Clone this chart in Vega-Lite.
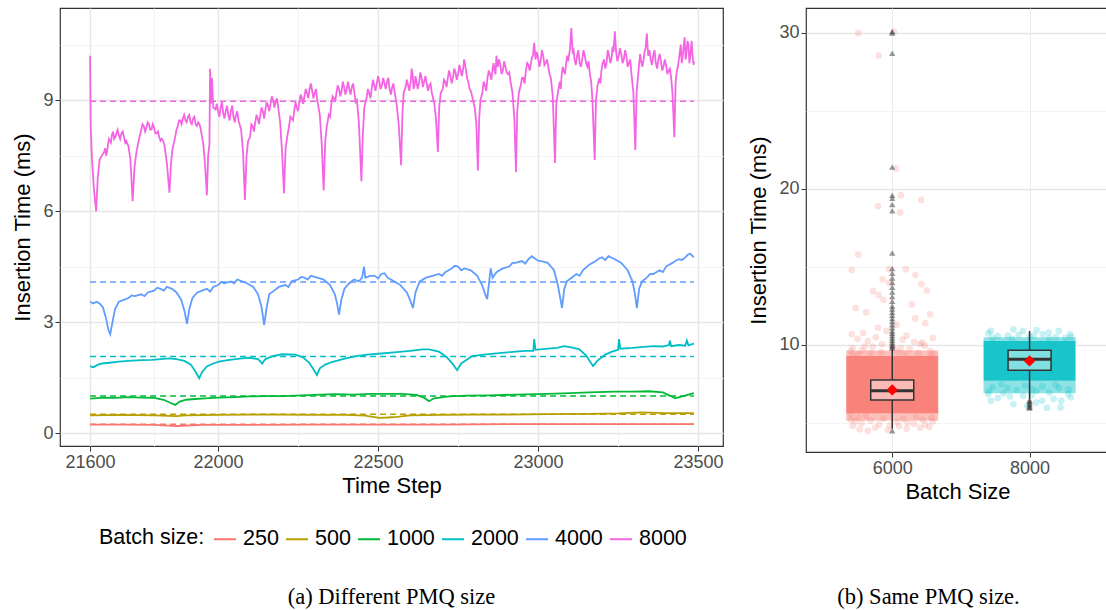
{
"$schema": "https://vega.github.io/schema/vega-lite/v6.json",
"padding": {"left": 11, "top": 7, "right": 0, "bottom": 0},
"background": "white",
"config": {
  "font": "Liberation Sans",
  "view": {"stroke": "#333333", "strokeWidth": 1.2},
  "axis": {"labelFontSize": 18, "labelColor": "#4d4d4d", "labelFont": "Liberation Sans", "titleFontSize": 22, "titleFont": "Liberation Sans", "titleFontWeight": "normal", "titleColor": "black", "tickColor": "#333333", "tickSize": 5, "domain": false, "labelPadding": 2, "labelOverlap": false, "gridColor": "#ebebeb"}
},
"datasets": {
"lines": [
{"b":"8000","s":21600,"t":10.2},{"b":"8000","s":21602,"t":8.3},{"b":"8000","s":21606,"t":7.4},{"b":"8000","s":21612,"t":6.6},{"b":"8000","s":21619,"t":6.0},{"b":"8000","s":21624,"t":6.9},{"b":"8000","s":21630,"t":7.4},{"b":"8000","s":21637,"t":7.5},{"b":"8000","s":21644,"t":7.6},{"b":"8000","s":21650,"t":7.5},{"b":"8000","s":21656,"t":7.8},{"b":"8000","s":21662,"t":7.9},{"b":"8000","s":21668,"t":8.05},{"b":"8000","s":21675,"t":7.95},{"b":"8000","s":21682,"t":8.1},{"b":"8000","s":21690,"t":8.05},{"b":"8000","s":21698,"t":8.1},{"b":"8000","s":21706,"t":8.0},{"b":"8000","s":21713,"t":7.9},{"b":"8000","s":21720,"t":7.75},{"b":"8000","s":21726,"t":7.4},{"b":"8000","s":21733,"t":6.27},
{"b":"8000","s":21739,"t":7.2},{"b":"8000","s":21745,"t":7.6},{"b":"8000","s":21752,"t":7.9},{"b":"8000","s":21760,"t":8.2},{"b":"8000","s":21768,"t":8.3},{"b":"8000","s":21776,"t":8.25},{"b":"8000","s":21784,"t":8.35},{"b":"8000","s":21792,"t":8.2},{"b":"8000","s":21800,"t":8.25},{"b":"8000","s":21808,"t":8.1},{"b":"8000","s":21816,"t":8.0},{"b":"8000","s":21824,"t":7.95},{"b":"8000","s":21832,"t":7.8},{"b":"8000","s":21840,"t":7.3},{"b":"8000","s":21848,"t":6.5},
{"b":"8000","s":21853,"t":7.3},{"b":"8000","s":21858,"t":7.7},{"b":"8000","s":21866,"t":8.0},{"b":"8000","s":21874,"t":8.3},{"b":"8000","s":21882,"t":8.45},{"b":"8000","s":21890,"t":8.5},{"b":"8000","s":21898,"t":8.45},{"b":"8000","s":21906,"t":8.55},{"b":"8000","s":21914,"t":8.4},{"b":"8000","s":21922,"t":8.5},{"b":"8000","s":21930,"t":8.35},{"b":"8000","s":21938,"t":8.4},{"b":"8000","s":21946,"t":8.2},{"b":"8000","s":21954,"t":7.8},{"b":"8000","s":21959,"t":7.3},{"b":"8000","s":21965,"t":6.43},
{"b":"8000","s":21969,"t":7.5},{"b":"8000","s":21973,"t":7.8},{"b":"8000","s":21975,"t":9.85},{"b":"8000","s":21978,"t":8.9},{"b":"8000","s":21981,"t":9.6},{"b":"8000","s":21985,"t":8.8},{"b":"8000","s":21992,"t":8.75},{"b":"8000","s":22000,"t":8.7},{"b":"8000","s":22008,"t":8.8},{"b":"8000","s":22016,"t":8.65},{"b":"8000","s":22024,"t":8.7},{"b":"8000","s":22032,"t":8.6},{"b":"8000","s":22040,"t":8.7},{"b":"8000","s":22048,"t":8.55},{"b":"8000","s":22056,"t":8.6},{"b":"8000","s":22064,"t":8.45},{"b":"8000","s":22072,"t":8.2},{"b":"8000","s":22078,"t":7.6},{"b":"8000","s":22084,"t":6.3},
{"b":"8000","s":22089,"t":7.5},{"b":"8000","s":22094,"t":7.9},{"b":"8000","s":22100,"t":8.0},{"b":"8000","s":22108,"t":8.3},{"b":"8000","s":22116,"t":8.4},{"b":"8000","s":22124,"t":8.5},{"b":"8000","s":22132,"t":8.6},{"b":"8000","s":22140,"t":8.7},{"b":"8000","s":22148,"t":8.75},{"b":"8000","s":22156,"t":8.85},{"b":"8000","s":22164,"t":8.9},{"b":"8000","s":22172,"t":9.0},{"b":"8000","s":22180,"t":8.95},{"b":"8000","s":22188,"t":8.8},{"b":"8000","s":22194,"t":8.4},{"b":"8000","s":22200,"t":7.6},{"b":"8000","s":22206,"t":6.48},
{"b":"8000","s":22211,"t":7.7},{"b":"8000","s":22216,"t":8.0},{"b":"8000","s":22222,"t":8.3},{"b":"8000","s":22230,"t":8.5},{"b":"8000","s":22238,"t":8.7},{"b":"8000","s":22246,"t":8.8},{"b":"8000","s":22254,"t":8.95},{"b":"8000","s":22262,"t":9.05},{"b":"8000","s":22270,"t":9.1},{"b":"8000","s":22278,"t":9.2},{"b":"8000","s":22286,"t":9.3},{"b":"8000","s":22294,"t":9.25},{"b":"8000","s":22302,"t":9.2},{"b":"8000","s":22310,"t":9.0},{"b":"8000","s":22318,"t":8.6},{"b":"8000","s":22324,"t":7.8},{"b":"8000","s":22330,"t":6.56},
{"b":"8000","s":22335,"t":7.9},{"b":"8000","s":22340,"t":8.3},{"b":"8000","s":22346,"t":8.6},{"b":"8000","s":22354,"t":8.9},{"b":"8000","s":22362,"t":9.05},{"b":"8000","s":22370,"t":9.2},{"b":"8000","s":22378,"t":9.3},{"b":"8000","s":22386,"t":9.25},{"b":"8000","s":22394,"t":9.35},{"b":"8000","s":22402,"t":9.3},{"b":"8000","s":22410,"t":9.3},{"b":"8000","s":22418,"t":9.35},{"b":"8000","s":22426,"t":9.2},{"b":"8000","s":22434,"t":9.0},{"b":"8000","s":22440,"t":8.4},{"b":"8000","s":22448,"t":6.8},
{"b":"8000","s":22452,"t":8.0},{"b":"8000","s":22457,"t":8.8},{"b":"8000","s":22464,"t":9.05},{"b":"8000","s":22472,"t":9.2},{"b":"8000","s":22480,"t":9.3},{"b":"8000","s":22488,"t":9.4},{"b":"8000","s":22496,"t":9.45},{"b":"8000","s":22504,"t":9.5},{"b":"8000","s":22512,"t":9.4},{"b":"8000","s":22520,"t":9.45},{"b":"8000","s":22528,"t":9.5},{"b":"8000","s":22536,"t":9.3},{"b":"8000","s":22544,"t":9.35},{"b":"8000","s":22552,"t":9.2},{"b":"8000","s":22558,"t":8.9},{"b":"8000","s":22565,"t":8.3},{"b":"8000","s":22572,"t":7.24},
{"b":"8000","s":22576,"t":8.6},{"b":"8000","s":22580,"t":9.2},{"b":"8000","s":22586,"t":9.35},{"b":"8000","s":22594,"t":9.4},{"b":"8000","s":22602,"t":9.5},{"b":"8000","s":22608,"t":9.7},{"b":"8000","s":22614,"t":9.4},{"b":"8000","s":22620,"t":9.5},{"b":"8000","s":22628,"t":9.45},{"b":"8000","s":22636,"t":9.6},{"b":"8000","s":22644,"t":9.5},{"b":"8000","s":22652,"t":9.45},{"b":"8000","s":22660,"t":9.4},{"b":"8000","s":22668,"t":9.2},{"b":"8000","s":22676,"t":8.9},{"b":"8000","s":22681,"t":8.5},{"b":"8000","s":22687,"t":7.6},
{"b":"8000","s":22691,"t":8.8},{"b":"8000","s":22696,"t":9.2},{"b":"8000","s":22702,"t":9.3},{"b":"8000","s":22710,"t":9.5},{"b":"8000","s":22718,"t":9.6},{"b":"8000","s":22726,"t":9.65},{"b":"8000","s":22734,"t":9.6},{"b":"8000","s":22742,"t":9.75},{"b":"8000","s":22750,"t":9.7},{"b":"8000","s":22758,"t":9.8},{"b":"8000","s":22766,"t":9.85},{"b":"8000","s":22772,"t":9.97},{"b":"8000","s":22778,"t":9.6},{"b":"8000","s":22786,"t":9.3},{"b":"8000","s":22794,"t":9.1},{"b":"8000","s":22802,"t":8.8},{"b":"8000","s":22807,"t":8.4},{"b":"8000","s":22812,"t":7.1},
{"b":"8000","s":22816,"t":8.5},{"b":"8000","s":22820,"t":9.0},{"b":"8000","s":22826,"t":9.2},{"b":"8000","s":22834,"t":9.4},{"b":"8000","s":22842,"t":9.6},{"b":"8000","s":22850,"t":9.7},{"b":"8000","s":22858,"t":9.85},{"b":"8000","s":22864,"t":9.8},{"b":"8000","s":22870,"t":10.2},{"b":"8000","s":22874,"t":9.9},{"b":"8000","s":22882,"t":9.95},{"b":"8000","s":22890,"t":9.8},{"b":"8000","s":22898,"t":9.9},{"b":"8000","s":22906,"t":9.7},{"b":"8000","s":22914,"t":9.5},{"b":"8000","s":22920,"t":9.2},{"b":"8000","s":22926,"t":8.5},{"b":"8000","s":22931,"t":7.05},
{"b":"8000","s":22935,"t":8.7},{"b":"8000","s":22940,"t":9.2},{"b":"8000","s":22946,"t":9.4},{"b":"8000","s":22954,"t":9.6},{"b":"8000","s":22962,"t":9.8},{"b":"8000","s":22970,"t":9.95},{"b":"8000","s":22978,"t":10.0},{"b":"8000","s":22984,"t":10.2},{"b":"8000","s":22988,"t":10.55},{"b":"8000","s":22992,"t":10.1},{"b":"8000","s":23000,"t":10.15},{"b":"8000","s":23008,"t":10.05},{"b":"8000","s":23016,"t":10.2},{"b":"8000","s":23024,"t":10.0},{"b":"8000","s":23032,"t":9.9},{"b":"8000","s":23040,"t":9.6},{"b":"8000","s":23046,"t":9.1},{"b":"8000","s":23053,"t":7.3},
{"b":"8000","s":23057,"t":8.9},{"b":"8000","s":23062,"t":9.2},{"b":"8000","s":23068,"t":9.5},{"b":"8000","s":23074,"t":9.7},{"b":"8000","s":23080,"t":9.8},{"b":"8000","s":23088,"t":10.0},{"b":"8000","s":23094,"t":10.05},{"b":"8000","s":23100,"t":10.4},{"b":"8000","s":23104,"t":10.95},{"b":"8000","s":23108,"t":10.3},{"b":"8000","s":23114,"t":10.1},{"b":"8000","s":23122,"t":10.2},{"b":"8000","s":23130,"t":10.0},{"b":"8000","s":23138,"t":10.1},{"b":"8000","s":23146,"t":10.2},{"b":"8000","s":23154,"t":9.9},{"b":"8000","s":23162,"t":9.7},{"b":"8000","s":23170,"t":9.0},{"b":"8000","s":23177,"t":7.38},
{"b":"8000","s":23181,"t":9.0},{"b":"8000","s":23186,"t":9.4},{"b":"8000","s":23192,"t":9.6},{"b":"8000","s":23198,"t":9.8},{"b":"8000","s":23206,"t":10.1},{"b":"8000","s":23214,"t":10.0},{"b":"8000","s":23222,"t":10.2},{"b":"8000","s":23230,"t":10.15},{"b":"8000","s":23236,"t":10.3},{"b":"8000","s":23240,"t":10.86},{"b":"8000","s":23244,"t":10.3},{"b":"8000","s":23252,"t":10.2},{"b":"8000","s":23260,"t":10.25},{"b":"8000","s":23268,"t":10.1},{"b":"8000","s":23276,"t":10.2},{"b":"8000","s":23284,"t":10.0},{"b":"8000","s":23292,"t":9.7},{"b":"8000","s":23298,"t":9.2},{"b":"8000","s":23304,"t":7.65},
{"b":"8000","s":23308,"t":9.2},{"b":"8000","s":23312,"t":9.6},{"b":"8000","s":23316,"t":10.0},{"b":"8000","s":23322,"t":10.05},{"b":"8000","s":23330,"t":10.1},{"b":"8000","s":23336,"t":10.4},{"b":"8000","s":23340,"t":10.8},{"b":"8000","s":23344,"t":10.2},{"b":"8000","s":23352,"t":10.1},{"b":"8000","s":23360,"t":10.2},{"b":"8000","s":23368,"t":10.0},{"b":"8000","s":23376,"t":10.1},{"b":"8000","s":23384,"t":10.05},{"b":"8000","s":23392,"t":9.9},{"b":"8000","s":23400,"t":9.95},{"b":"8000","s":23408,"t":9.8},{"b":"8000","s":23416,"t":9.6},{"b":"8000","s":23420,"t":9.2},{"b":"8000","s":23426,"t":8.0},
{"b":"8000","s":23430,"t":9.5},{"b":"8000","s":23434,"t":9.8},{"b":"8000","s":23440,"t":10.1},{"b":"8000","s":23446,"t":10.5},{"b":"8000","s":23452,"t":10.2},{"b":"8000","s":23458,"t":10.7},{"b":"8000","s":23464,"t":10.3},{"b":"8000","s":23470,"t":10.5},{"b":"8000","s":23476,"t":10.2},{"b":"8000","s":23480,"t":10.6},{"b":"8000","s":23484,"t":10.1},{"b":"8000","s":23487,"t":10.05},
{"b":"8000","s":21647,"t":7.7},{"b":"8000","s":21653,"t":7.6},{"b":"8000","s":21659,"t":7.95},{"b":"8000","s":21665,"t":7.85},{"b":"8000","s":21672,"t":8.15},{"b":"8000","s":21679,"t":8.0},{"b":"8000","s":21686,"t":8.2},{"b":"8000","s":21694,"t":7.95},{"b":"8000","s":21702,"t":8.15},{"b":"8000","s":21710,"t":7.85},
{"b":"8000","s":21756,"t":8.05},{"b":"8000","s":21764,"t":8.35},{"b":"8000","s":21772,"t":8.15},{"b":"8000","s":21780,"t":8.4},{"b":"8000","s":21788,"t":8.2},{"b":"8000","s":21796,"t":8.35},{"b":"8000","s":21804,"t":8.1},{"b":"8000","s":21812,"t":8.15},{"b":"8000","s":21820,"t":7.9},{"b":"8000","s":21828,"t":7.9},
{"b":"8000","s":21870,"t":8.2},{"b":"8000","s":21878,"t":8.45},{"b":"8000","s":21886,"t":8.35},{"b":"8000","s":21894,"t":8.6},{"b":"8000","s":21902,"t":8.4},{"b":"8000","s":21910,"t":8.6},{"b":"8000","s":21918,"t":8.35},{"b":"8000","s":21926,"t":8.55},{"b":"8000","s":21934,"t":8.3},{"b":"8000","s":21942,"t":8.35},
{"b":"8000","s":21996,"t":8.9},{"b":"8000","s":22004,"t":8.55},{"b":"8000","s":22012,"t":8.95},{"b":"8000","s":22020,"t":8.5},{"b":"8000","s":22028,"t":8.85},{"b":"8000","s":22036,"t":8.45},{"b":"8000","s":22044,"t":8.85},{"b":"8000","s":22052,"t":8.4},{"b":"8000","s":22060,"t":8.7},
{"b":"8000","s":22104,"t":8.35},{"b":"8000","s":22112,"t":8.15},{"b":"8000","s":22120,"t":8.6},{"b":"8000","s":22128,"t":8.35},{"b":"8000","s":22136,"t":8.8},{"b":"8000","s":22144,"t":8.5},{"b":"8000","s":22152,"t":8.95},{"b":"8000","s":22160,"t":8.7},{"b":"8000","s":22168,"t":9.1},{"b":"8000","s":22176,"t":8.8},{"b":"8000","s":22184,"t":9.05},
{"b":"8000","s":22226,"t":8.55},{"b":"8000","s":22234,"t":8.45},{"b":"8000","s":22242,"t":8.95},{"b":"8000","s":22250,"t":8.7},{"b":"8000","s":22258,"t":9.15},{"b":"8000","s":22266,"t":8.9},{"b":"8000","s":22274,"t":9.3},{"b":"8000","s":22282,"t":9.05},{"b":"8000","s":22290,"t":9.45},{"b":"8000","s":22298,"t":9.05},{"b":"8000","s":22306,"t":9.3},
{"b":"8000","s":22350,"t":8.55},{"b":"8000","s":22358,"t":9.1},{"b":"8000","s":22366,"t":8.95},{"b":"8000","s":22374,"t":9.4},{"b":"8000","s":22382,"t":9.1},{"b":"8000","s":22390,"t":9.5},{"b":"8000","s":22398,"t":9.15},{"b":"8000","s":22406,"t":9.5},{"b":"8000","s":22414,"t":9.15},{"b":"8000","s":22422,"t":9.45},{"b":"8000","s":22430,"t":8.95},
{"b":"8000","s":22468,"t":9.3},{"b":"8000","s":22476,"t":9.05},{"b":"8000","s":22484,"t":9.55},{"b":"8000","s":22492,"t":9.25},{"b":"8000","s":22500,"t":9.65},{"b":"8000","s":22508,"t":9.3},{"b":"8000","s":22516,"t":9.6},{"b":"8000","s":22524,"t":9.3},{"b":"8000","s":22532,"t":9.6},{"b":"8000","s":22540,"t":9.15},{"b":"8000","s":22548,"t":9.45},
{"b":"8000","s":22590,"t":9.55},{"b":"8000","s":22598,"t":9.25},{"b":"8000","s":22605,"t":9.85},{"b":"8000","s":22611,"t":9.3},{"b":"8000","s":22617,"t":9.65},{"b":"8000","s":22624,"t":9.3},{"b":"8000","s":22632,"t":9.75},{"b":"8000","s":22640,"t":9.35},{"b":"8000","s":22648,"t":9.65},{"b":"8000","s":22656,"t":9.25},{"b":"8000","s":22664,"t":9.45},
{"b":"8000","s":22706,"t":9.55},{"b":"8000","s":22714,"t":9.35},{"b":"8000","s":22722,"t":9.8},{"b":"8000","s":22730,"t":9.45},{"b":"8000","s":22738,"t":9.85},{"b":"8000","s":22746,"t":9.55},{"b":"8000","s":22754,"t":9.95},{"b":"8000","s":22762,"t":9.65},{"b":"8000","s":22769,"t":10.1},{"b":"8000","s":22775,"t":9.8},{"b":"8000","s":22782,"t":9.5},{"b":"8000","s":22790,"t":9.25},
{"b":"8000","s":22830,"t":9.5},{"b":"8000","s":22838,"t":9.25},{"b":"8000","s":22846,"t":9.8},{"b":"8000","s":22854,"t":9.55},{"b":"8000","s":22861,"t":10.0},{"b":"8000","s":22867,"t":9.7},{"b":"8000","s":22878,"t":10.1},{"b":"8000","s":22886,"t":9.7},{"b":"8000","s":22894,"t":10.05},{"b":"8000","s":22902,"t":9.75},{"b":"8000","s":22910,"t":9.75},
{"b":"8000","s":22950,"t":9.6},{"b":"8000","s":22958,"t":9.45},{"b":"8000","s":22966,"t":10.0},{"b":"8000","s":22974,"t":9.8},{"b":"8000","s":22981,"t":10.15},{"b":"8000","s":22996,"t":10.3},{"b":"8000","s":23004,"t":9.9},{"b":"8000","s":23012,"t":10.35},{"b":"8000","s":23020,"t":9.95},{"b":"8000","s":23028,"t":10.1},{"b":"8000","s":23036,"t":9.7},
{"b":"8000","s":23071,"t":9.3},{"b":"8000","s":23077,"t":9.9},{"b":"8000","s":23084,"t":9.7},{"b":"8000","s":23091,"t":10.2},{"b":"8000","s":23111,"t":10.35},{"b":"8000","s":23118,"t":9.95},{"b":"8000","s":23126,"t":10.35},{"b":"8000","s":23134,"t":9.9},{"b":"8000","s":23142,"t":10.35},{"b":"8000","s":23150,"t":10.0},{"b":"8000","s":23158,"t":10.05},{"b":"8000","s":23166,"t":9.5},
{"b":"8000","s":23195,"t":9.45},{"b":"8000","s":23202,"t":10.0},{"b":"8000","s":23210,"t":9.85},{"b":"8000","s":23218,"t":10.35},{"b":"8000","s":23226,"t":10.0},{"b":"8000","s":23233,"t":10.45},{"b":"8000","s":23248,"t":10.05},{"b":"8000","s":23256,"t":10.4},{"b":"8000","s":23264,"t":10.0},{"b":"8000","s":23272,"t":10.35},{"b":"8000","s":23280,"t":9.9},{"b":"8000","s":23288,"t":10.1},
{"b":"8000","s":23319,"t":10.25},{"b":"8000","s":23326,"t":9.9},{"b":"8000","s":23333,"t":10.3},{"b":"8000","s":23348,"t":10.35},{"b":"8000","s":23356,"t":9.95},{"b":"8000","s":23364,"t":10.35},{"b":"8000","s":23372,"t":9.85},{"b":"8000","s":23380,"t":10.25},{"b":"8000","s":23388,"t":9.8},{"b":"8000","s":23396,"t":10.1},{"b":"8000","s":23404,"t":9.7},{"b":"8000","s":23412,"t":9.85},
{"b":"8000","s":23437,"t":9.9},{"b":"8000","s":23443,"t":10.3},{"b":"8000","s":23449,"t":10.0},{"b":"8000","s":23455,"t":10.45},{"b":"8000","s":23461,"t":10.1},{"b":"8000","s":23467,"t":10.6},{"b":"8000","s":23473,"t":10.0},{"b":"8000","s":23478,"t":10.4},{"b":"8000","s":23482,"t":10.3},{"b":"8000","s":23486,"t":9.95},
{"b":"4000","s":21600,"t":3.55},{"b":"4000","s":21610,"t":3.5},{"b":"4000","s":21620,"t":3.55},{"b":"4000","s":21630,"t":3.5},{"b":"4000","s":21640,"t":3.4},{"b":"4000","s":21650,"t":3.1},{"b":"4000","s":21657,"t":2.8},{"b":"4000","s":21663,"t":2.67},{"b":"4000","s":21670,"t":3.0},{"b":"4000","s":21678,"t":3.35},{"b":"4000","s":21690,"t":3.55},{"b":"4000","s":21705,"t":3.6},{"b":"4000","s":21720,"t":3.65},{"b":"4000","s":21740,"t":3.7},{"b":"4000","s":21760,"t":3.75},{"b":"4000","s":21780,"t":3.8},{"b":"4000","s":21800,"t":3.85},{"b":"4000","s":21820,"t":3.9},{"b":"4000","s":21840,"t":3.95},{"b":"4000","s":21856,"t":3.9},{"b":"4000","s":21870,"t":3.8},{"b":"4000","s":21885,"t":3.6},{"b":"4000","s":21895,"t":3.3},{"b":"4000","s":21903,"t":2.95},{"b":"4000","s":21910,"t":3.35},{"b":"4000","s":21920,"t":3.65},{"b":"4000","s":21935,"t":3.8},{"b":"4000","s":21950,"t":3.85},{"b":"4000","s":21965,"t":3.9},{"b":"4000","s":21985,"t":3.95},{"b":"4000","s":22000,"t":4.0},{"b":"4000","s":22020,"t":4.05},{"b":"4000","s":22040,"t":4.1},{"b":"4000","s":22060,"t":4.15},{"b":"4000","s":22075,"t":4.1},{"b":"4000","s":22090,"t":4.05},{"b":"4000","s":22110,"t":3.95},{"b":"4000","s":22125,"t":3.75},{"b":"4000","s":22136,"t":3.4},{"b":"4000","s":22144,"t":2.92},{"b":"4000","s":22152,"t":3.4},{"b":"4000","s":22160,"t":3.75},{"b":"4000","s":22175,"t":3.85},{"b":"4000","s":22190,"t":3.95},{"b":"4000","s":22210,"t":4.0},{"b":"4000","s":22230,"t":4.1},{"b":"4000","s":22250,"t":4.15},{"b":"4000","s":22270,"t":4.2},{"b":"4000","s":22290,"t":4.25},{"b":"4000","s":22310,"t":4.2},{"b":"4000","s":22330,"t":4.15},{"b":"4000","s":22350,"t":4.0},{"b":"4000","s":22365,"t":3.75},{"b":"4000","s":22372,"t":3.5},{"b":"4000","s":22378,"t":3.2},{"b":"4000","s":22385,"t":3.6},{"b":"4000","s":22395,"t":3.9},{"b":"4000","s":22410,"t":4.05},{"b":"4000","s":22425,"t":4.15},{"b":"4000","s":22440,"t":4.1},{"b":"4000","s":22450,"t":4.2},{"b":"4000","s":22456,"t":4.5},{"b":"4000","s":22460,"t":4.2},{"b":"4000","s":22475,"t":4.25},{"b":"4000","s":22490,"t":4.25},{"b":"4000","s":22510,"t":4.3},{"b":"4000","s":22530,"t":4.2},{"b":"4000","s":22550,"t":4.1},{"b":"4000","s":22570,"t":4.0},{"b":"4000","s":22590,"t":3.8},{"b":"4000","s":22600,"t":3.6},{"b":"4000","s":22609,"t":3.38},{"b":"4000","s":22617,"t":3.8},{"b":"4000","s":22630,"t":4.1},{"b":"4000","s":22650,"t":4.2},{"b":"4000","s":22670,"t":4.25},{"b":"4000","s":22690,"t":4.3},{"b":"4000","s":22710,"t":4.35},{"b":"4000","s":22730,"t":4.45},{"b":"4000","s":22750,"t":4.5},{"b":"4000","s":22770,"t":4.45},{"b":"4000","s":22790,"t":4.4},{"b":"4000","s":22810,"t":4.25},{"b":"4000","s":22825,"t":4.0},{"b":"4000","s":22835,"t":3.75},{"b":"4000","s":22841,"t":3.62},{"b":"4000","s":22846,"t":4.0},{"b":"4000","s":22852,"t":4.45},{"b":"4000","s":22858,"t":4.2},{"b":"4000","s":22870,"t":4.35},{"b":"4000","s":22890,"t":4.45},{"b":"4000","s":22910,"t":4.5},{"b":"4000","s":22930,"t":4.6},{"b":"4000","s":22950,"t":4.65},{"b":"4000","s":22970,"t":4.7},{"b":"4000","s":22990,"t":4.72},{"b":"4000","s":23010,"t":4.65},{"b":"4000","s":23030,"t":4.6},{"b":"4000","s":23050,"t":4.4},{"b":"4000","s":23062,"t":4.0},{"b":"4000","s":23075,"t":3.38},{"b":"4000","s":23082,"t":3.9},{"b":"4000","s":23090,"t":4.1},{"b":"4000","s":23105,"t":4.2},{"b":"4000","s":23120,"t":4.3},{"b":"4000","s":23140,"t":4.4},{"b":"4000","s":23160,"t":4.55},{"b":"4000","s":23180,"t":4.65},{"b":"4000","s":23200,"t":4.75},{"b":"4000","s":23220,"t":4.78},{"b":"4000","s":23240,"t":4.7},{"b":"4000","s":23260,"t":4.6},{"b":"4000","s":23280,"t":4.4},{"b":"4000","s":23295,"t":4.1},{"b":"4000","s":23302,"t":3.8},{"b":"4000","s":23309,"t":3.38},{"b":"4000","s":23316,"t":3.9},{"b":"4000","s":23325,"t":4.1},{"b":"4000","s":23340,"t":4.2},{"b":"4000","s":23360,"t":4.3},{"b":"4000","s":23380,"t":4.4},{"b":"4000","s":23400,"t":4.5},{"b":"4000","s":23420,"t":4.6},{"b":"4000","s":23440,"t":4.7},{"b":"4000","s":23460,"t":4.75},{"b":"4000","s":23475,"t":4.85},{"b":"4000","s":23487,"t":4.75},
{"b":"4000","s":21730,"t":3.72},{"b":"4000","s":21770,"t":3.7},{"b":"4000","s":21810,"t":3.93},{"b":"4000","s":21830,"t":3.85},{"b":"4000","s":21975,"t":3.82},{"b":"4000","s":22010,"t":4.08},{"b":"4000","s":22050,"t":4.05},{"b":"4000","s":22220,"t":3.95},{"b":"4000","s":22260,"t":4.22},{"b":"4000","s":22280,"t":4.15},{"b":"4000","s":22500,"t":4.18},{"b":"4000","s":22520,"t":4.32},{"b":"4000","s":22700,"t":4.25},{"b":"4000","s":22740,"t":4.52},{"b":"4000","s":22760,"t":4.4},{"b":"4000","s":22920,"t":4.6},{"b":"4000","s":22960,"t":4.58},{"b":"4000","s":22980,"t":4.78},{"b":"4000","s":23000,"t":4.66},{"b":"4000","s":23130,"t":4.25},{"b":"4000","s":23150,"t":4.48},{"b":"4000","s":23190,"t":4.72},{"b":"4000","s":23210,"t":4.68},{"b":"4000","s":23350,"t":4.3},{"b":"4000","s":23390,"t":4.35},{"b":"4000","s":23430,"t":4.66},{"b":"4000","s":23450,"t":4.68},{"b":"4000","s":23468,"t":4.82},
{"b":"2000","s":21600,"t":1.81},{"b":"2000","s":21610,"t":1.78},{"b":"2000","s":21625,"t":1.85},{"b":"2000","s":21638,"t":1.88},{"b":"2000","s":21660,"t":1.9},{"b":"2000","s":21690,"t":1.93},{"b":"2000","s":21720,"t":1.95},{"b":"2000","s":21760,"t":1.97},{"b":"2000","s":21794,"t":1.98},{"b":"2000","s":21820,"t":2.0},{"b":"2000","s":21847,"t":2.02},{"b":"2000","s":21870,"t":2.0},{"b":"2000","s":21895,"t":1.95},{"b":"2000","s":21915,"t":1.85},{"b":"2000","s":21930,"t":1.65},{"b":"2000","s":21941,"t":1.48},{"b":"2000","s":21950,"t":1.65},{"b":"2000","s":21965,"t":1.8},{"b":"2000","s":21985,"t":1.88},{"b":"2000","s":22003,"t":1.93},{"b":"2000","s":22030,"t":1.97},{"b":"2000","s":22055,"t":2.0},{"b":"2000","s":22075,"t":2.02},{"b":"2000","s":22100,"t":2.03},{"b":"2000","s":22125,"t":2.0},{"b":"2000","s":22138,"t":1.88},{"b":"2000","s":22148,"t":2.0},{"b":"2000","s":22170,"t":2.08},{"b":"2000","s":22200,"t":2.13},{"b":"2000","s":22241,"t":2.12},{"b":"2000","s":22265,"t":2.05},{"b":"2000","s":22285,"t":1.9},{"b":"2000","s":22300,"t":1.7},{"b":"2000","s":22309,"t":1.57},{"b":"2000","s":22318,"t":1.75},{"b":"2000","s":22335,"t":1.85},{"b":"2000","s":22356,"t":1.92},{"b":"2000","s":22390,"t":2.0},{"b":"2000","s":22430,"t":2.08},{"b":"2000","s":22466,"t":2.12},{"b":"2000","s":22510,"t":2.15},{"b":"2000","s":22550,"t":2.18},{"b":"2000","s":22600,"t":2.22},{"b":"2000","s":22640,"t":2.26},{"b":"2000","s":22659,"t":2.26},{"b":"2000","s":22690,"t":2.2},{"b":"2000","s":22715,"t":2.05},{"b":"2000","s":22735,"t":1.85},{"b":"2000","s":22747,"t":1.7},{"b":"2000","s":22760,"t":1.88},{"b":"2000","s":22794,"t":2.08},{"b":"2000","s":22830,"t":2.12},{"b":"2000","s":22878,"t":2.16},{"b":"2000","s":22930,"t":2.2},{"b":"2000","s":22960,"t":2.22},{"b":"2000","s":22985,"t":2.22},{"b":"2000","s":22988,"t":2.54},{"b":"2000","s":22992,"t":2.25},{"b":"2000","s":23030,"t":2.28},{"b":"2000","s":23060,"t":2.3},{"b":"2000","s":23081,"t":2.35},{"b":"2000","s":23100,"t":2.32},{"b":"2000","s":23128,"t":2.27},{"b":"2000","s":23150,"t":2.1},{"b":"2000","s":23165,"t":1.9},{"b":"2000","s":23172,"t":1.81},{"b":"2000","s":23185,"t":1.95},{"b":"2000","s":23210,"t":2.12},{"b":"2000","s":23231,"t":2.2},{"b":"2000","s":23250,"t":2.25},{"b":"2000","s":23253,"t":2.54},{"b":"2000","s":23257,"t":2.28},{"b":"2000","s":23294,"t":2.3},{"b":"2000","s":23330,"t":2.33},{"b":"2000","s":23360,"t":2.35},{"b":"2000","s":23390,"t":2.34},{"b":"2000","s":23409,"t":2.38},{"b":"2000","s":23412,"t":2.5},{"b":"2000","s":23416,"t":2.35},{"b":"2000","s":23440,"t":2.38},{"b":"2000","s":23460,"t":2.36},{"b":"2000","s":23465,"t":2.5},{"b":"2000","s":23470,"t":2.37},{"b":"2000","s":23487,"t":2.42},
{"b":"1000","s":21600,"t":0.93},{"b":"1000","s":21640,"t":0.96},{"b":"1000","s":21680,"t":0.95},{"b":"1000","s":21720,"t":0.97},{"b":"1000","s":21760,"t":0.96},{"b":"1000","s":21800,"t":0.95},{"b":"1000","s":21830,"t":0.9},{"b":"1000","s":21850,"t":0.82},{"b":"1000","s":21866,"t":0.76},{"b":"1000","s":21880,"t":0.85},{"b":"1000","s":21900,"t":0.9},{"b":"1000","s":21928,"t":0.92},{"b":"1000","s":21960,"t":0.94},{"b":"1000","s":22000,"t":0.96},{"b":"1000","s":22053,"t":0.97},{"b":"1000","s":22100,"t":0.99},{"b":"1000","s":22150,"t":1.0},{"b":"1000","s":22200,"t":1.0},{"b":"1000","s":22263,"t":1.02},{"b":"1000","s":22300,"t":1.03},{"b":"1000","s":22366,"t":1.05},{"b":"1000","s":22420,"t":1.04},{"b":"1000","s":22480,"t":1.06},{"b":"1000","s":22540,"t":1.06},{"b":"1000","s":22575,"t":1.06},{"b":"1000","s":22620,"t":1.03},{"b":"1000","s":22645,"t":0.95},{"b":"1000","s":22659,"t":0.86},{"b":"1000","s":22675,"t":0.94},{"b":"1000","s":22722,"t":0.99},{"b":"1000","s":22780,"t":1.01},{"b":"1000","s":22850,"t":1.02},{"b":"1000","s":22928,"t":1.04},{"b":"1000","s":23000,"t":1.05},{"b":"1000","s":23080,"t":1.07},{"b":"1000","s":23160,"t":1.1},{"b":"1000","s":23241,"t":1.12},{"b":"1000","s":23300,"t":1.12},{"b":"1000","s":23347,"t":1.13},{"b":"1000","s":23390,"t":1.1},{"b":"1000","s":23415,"t":1.0},{"b":"1000","s":23428,"t":0.94},{"b":"1000","s":23445,"t":0.98},{"b":"1000","s":23470,"t":1.04},{"b":"1000","s":23487,"t":1.08},
{"b":"500","s":21600,"t":0.48},{"b":"500","s":21700,"t":0.49},{"b":"500","s":21800,"t":0.48},{"b":"500","s":21870,"t":0.46},{"b":"500","s":21900,"t":0.48},{"b":"500","s":22000,"t":0.49},{"b":"500","s":22100,"t":0.5},{"b":"500","s":22200,"t":0.5},{"b":"500","s":22300,"t":0.49},{"b":"500","s":22400,"t":0.49},{"b":"500","s":22460,"t":0.47},{"b":"500","s":22503,"t":0.41},{"b":"500","s":22530,"t":0.42},{"b":"500","s":22560,"t":0.44},{"b":"500","s":22600,"t":0.48},{"b":"500","s":22700,"t":0.49},{"b":"500","s":22800,"t":0.5},{"b":"500","s":22900,"t":0.5},{"b":"500","s":23034,"t":0.51},{"b":"500","s":23150,"t":0.52},{"b":"500","s":23250,"t":0.53},{"b":"500","s":23325,"t":0.56},{"b":"500","s":23400,"t":0.54},{"b":"500","s":23487,"t":0.54},
{"b":"250","s":21600,"t":0.23},{"b":"250","s":21700,"t":0.23},{"b":"250","s":21800,"t":0.22},{"b":"250","s":21870,"t":0.19},{"b":"250","s":21950,"t":0.22},{"b":"250","s":22100,"t":0.22},{"b":"250","s":22300,"t":0.23},{"b":"250","s":22500,"t":0.23},{"b":"250","s":22700,"t":0.23},{"b":"250","s":22900,"t":0.24},{"b":"250","s":23100,"t":0.24},{"b":"250","s":23300,"t":0.24},{"b":"250","s":23487,"t":0.24}
],
"means": [
{"b":"8000","m":8.97,"x0":21600,"x1":23487},{"b":"4000","m":4.08,"x0":21600,"x1":23487},{"b":"2000","m":2.07,"x0":21600,"x1":23487},{"b":"1000","m":1.0,"x0":21600,"x1":23487},{"b":"500","m":0.51,"x0":21600,"x1":23487},{"b":"250","m":0.24,"x0":21600,"x1":23487}
],
"core": [
{"g":"6000","bs":6000,"lo":5.6,"hi":9.3},{"g":"8000","bs":8000,"lo":7.7,"hi":10.25}
],
"halo": [
{"g":"6000","bs":6000,"lo":5.15,"hi":5.6},{"g":"6000","bs":6000,"lo":9.3,"hi":9.65},{"g":"8000","bs":8000,"lo":6.9,"hi":7.7},{"g":"8000","bs":8000,"lo":10.25,"hi":10.5}
],
"fringe": [
{"g":"6000","x":5505,"t":30.0},{"g":"6000","x":6025,"t":30.1},{"g":"6000","x":5803,"t":28.55},{"g":"6000","x":6057,"t":21.3},{"g":"6000","x":6127,"t":19.6},{"g":"6000","x":6425,"t":19.3},{"g":"6000","x":5791,"t":18.9},{"g":"6000","x":6114,"t":18.5},{"g":"6000","x":5505,"t":15.8},{"g":"6000","x":5410,"t":14.8},{"g":"6000","x":6197,"t":14.86},{"g":"6000","x":6336,"t":14.5},{"g":"6000","x":5861,"t":14.2},{"g":"6000","x":6425,"t":13.9},{"g":"6000","x":5721,"t":13.45},{"g":"6000","x":6507,"t":13.5},{"g":"6000","x":5803,"t":13.2},{"g":"6000","x":5956,"t":14.86},{"g":"6000","x":5956,"t":14.0},
{"g":"6000","x":5467,"t":12.37},{"g":"6000","x":5410,"t":10.7},{"g":"6000","x":5575,"t":10.77},{"g":"6000","x":5791,"t":11.1},{"g":"6000","x":6336,"t":11.7},{"g":"6000","x":6552,"t":11.97},{"g":"6000","x":6482,"t":11.4},{"g":"6000","x":6209,"t":10.6},{"g":"6000","x":6590,"t":10.45},{"g":"6000","x":5918,"t":10.9},{"g":"6000","x":5645,"t":10.25},{"g":"6000","x":5848,"t":10.06},{"g":"6000","x":6406,"t":10.06},{"g":"6000","x":6127,"t":9.8},{"g":"6000","x":5423,"t":9.8},{"g":"6000","x":6552,"t":9.6},{"g":"6000","x":5873,"t":12.9},{"g":"6000","x":6285,"t":12.6},{"g":"6000","x":6063,"t":11.3},{"g":"6000","x":5620,"t":12.1},{"g":"6000","x":5493,"t":10.4},{"g":"6000","x":6317,"t":10.2},{"g":"6000","x":5715,"t":9.9},{"g":"6000","x":6476,"t":9.95},{"g":"6000","x":6032,"t":9.7},{"g":"6000","x":5556,"t":9.65},{"g":"6000","x":6254,"t":9.75},{"g":"6000","x":5842,"t":9.55},{"g":"6000","x":6380,"t":9.5},{"g":"6000","x":5398,"t":9.6},{"g":"6000","x":6602,"t":9.45},{"g":"6000","x":5683,"t":9.5},{"g":"6000","x":6095,"t":9.55},{"g":"6000","x":6190,"t":9.45},{"g":"6000","x":5493,"t":9.4},{"g":"6000","x":5600,"t":9.9},{"g":"6000","x":6150,"t":10.35},{"g":"6000","x":6440,"t":10.15},{"g":"6000","x":5760,"t":10.5},{"g":"6000","x":6000,"t":9.95},{"g":"6000","x":6560,"t":9.25},{"g":"6000","x":5420,"t":9.3},
{"g":"6000","x":5423,"t":4.82},{"g":"6000","x":5645,"t":4.5},{"g":"6000","x":5937,"t":4.55},{"g":"6000","x":6209,"t":4.63},{"g":"6000","x":6406,"t":4.7},{"g":"6000","x":6590,"t":5.1},{"g":"6000","x":5398,"t":5.56},{"g":"6000","x":5810,"t":4.9},{"g":"6000","x":6317,"t":4.95},{"g":"6000","x":5556,"t":5.0},{"g":"6000","x":6063,"t":5.05},{"g":"6000","x":6539,"t":4.75},{"g":"6000","x":5968,"t":4.85},{"g":"6000","x":5683,"t":5.15},{"g":"6000","x":6444,"t":5.2},{"g":"6000","x":5461,"t":5.1},{"g":"6000","x":6159,"t":5.25},{"g":"6000","x":5873,"t":5.3},{"g":"6000","x":6571,"t":5.35},{"g":"6000","x":5398,"t":5.2},{"g":"6000","x":6349,"t":5.4},{"g":"6000","x":6222,"t":5.0},{"g":"6000","x":5525,"t":4.6},{"g":"6000","x":5620,"t":5.45},{"g":"6000","x":5750,"t":4.7},{"g":"6000","x":6100,"t":4.8},{"g":"6000","x":6480,"t":4.9},{"g":"6000","x":5500,"t":5.35},
{"g":"8000","x":7436,"t":10.9},{"g":"8000","x":7765,"t":11.0},{"g":"8000","x":8101,"t":10.95},{"g":"8000","x":8425,"t":10.9},{"g":"8000","x":8590,"t":10.7},{"g":"8000","x":7905,"t":10.9},{"g":"8000","x":8279,"t":10.8},{"g":"8000","x":7537,"t":10.58},{"g":"8000","x":8520,"t":10.45},{"g":"8000","x":7683,"t":10.6},{"g":"8000","x":8190,"t":10.7},{"g":"8000","x":8000,"t":10.55},{"g":"8000","x":7398,"t":10.75},{"g":"8000","x":8380,"t":10.5},{"g":"8000","x":7842,"t":10.65},{"g":"8000","x":7461,"t":10.45},{"g":"8000","x":8602,"t":10.5},{"g":"8000","x":8063,"t":10.6},{"g":"8000","x":7746,"t":10.4},{"g":"8000","x":8285,"t":10.42},
{"g":"8000","x":7410,"t":7.06},{"g":"8000","x":7537,"t":6.6},{"g":"8000","x":7765,"t":6.2},{"g":"8000","x":8254,"t":5.97},{"g":"8000","x":8450,"t":6.0},{"g":"8000","x":8184,"t":6.42},{"g":"8000","x":7905,"t":6.74},{"g":"8000","x":8564,"t":6.86},{"g":"8000","x":7677,"t":7.25},{"g":"8000","x":8425,"t":7.25},{"g":"8000","x":8101,"t":7.06},{"g":"8000","x":8463,"t":6.42},{"g":"8000","x":7436,"t":6.42},{"g":"8000","x":7968,"t":6.1},{"g":"8000","x":7620,"t":6.9},{"g":"8000","x":8285,"t":6.95},{"g":"8000","x":7810,"t":7.1},{"g":"8000","x":8571,"t":7.15},{"g":"8000","x":8032,"t":6.8},{"g":"8000","x":7461,"t":7.3},{"g":"8000","x":8190,"t":7.35},{"g":"8000","x":7715,"t":6.7},{"g":"8000","x":8349,"t":6.55},{"g":"8000","x":8032,"t":7.2},{"g":"8000","x":8602,"t":6.65},{"g":"8000","x":7937,"t":7.4},{"g":"8000","x":8380,"t":7.45},{"g":"8000","x":7588,"t":7.5},{"g":"8000","x":8095,"t":6.3},{"g":"8000","x":7398,"t":6.85}
],
"stats": [
{"g":"6000","bs":6000,"lo":4.63,"q1":6.48,"med":7.06,"q3":7.76,"hi":9.74,"mean":7.12},
{"g":"8000","bs":8000,"lo":6.53,"q1":8.38,"med":9.08,"q3":9.66,"hi":10.9,"mean":8.98}
],
"outliers": [
{"bs":6000,"t":30.1},{"bs":6000,"t":30.0},{"bs":6000,"t":28.7},{"bs":6000,"t":21.4},{"bs":6000,"t":19.6},{"bs":6000,"t":19.4},{"bs":6000,"t":19.0},{"bs":6000,"t":18.6},{"bs":6000,"t":15.9},{"bs":6000,"t":14.9},{"bs":6000,"t":14.6},{"bs":6000,"t":14.3},{"bs":6000,"t":14.0},{"bs":6000,"t":13.7},{"bs":6000,"t":13.4},{"bs":6000,"t":13.1},{"bs":6000,"t":12.8},{"bs":6000,"t":12.5},{"bs":6000,"t":12.3},{"bs":6000,"t":12.1},{"bs":6000,"t":11.9},{"bs":6000,"t":11.7},{"bs":6000,"t":11.5},{"bs":6000,"t":11.3},{"bs":6000,"t":11.1},{"bs":6000,"t":10.9},{"bs":6000,"t":10.75},{"bs":6000,"t":10.6},{"bs":6000,"t":10.45},{"bs":6000,"t":10.3},{"bs":6000,"t":10.15},{"bs":6000,"t":10.0},{"bs":6000,"t":9.9},{"bs":6000,"t":9.8},{"bs":6000,"t":4.5},
{"bs":8000,"t":6.48},{"bs":8000,"t":6.4},{"bs":8000,"t":6.3},{"bs":8000,"t":6.2},{"bs":8000,"t":6.1},{"bs":8000,"t":6.0},{"bs":8000,"t":5.96}
]
},
"hconcat": [
{
  "width": 663, "height": 438,
  "title": {"text": "(a) Different PMQ size", "orient": "bottom", "font": "Liberation Serif", "fontSize": 22.5, "fontWeight": "normal", "color": "black", "offset": 36, "anchor": "middle", "frame": "group"},
  "layer": [
    {"data": {"name": "lines"},
     "mark": {"type": "line", "strokeWidth": 1.8},
     "encoding": {
       "x": {"field": "s", "type": "quantitative", "title": "Time Step",
             "scale": {"domain": [21506, 23578], "nice": false, "zero": false},
             "axis": {"values": [21600, 21800, 22000, 22250, 22500, 22750, 23000, 23250, 23500], "format": "d",
                      "labelExpr": "(datum.value == 21800 || datum.value % 500 == 250) ? '' : datum.label",
                      "gridColor": {"condition": {"test": "datum.value == 21800 || datum.value % 500 == 250", "value": "#f3f3f3"}, "value": "#e6e6e6"},
                      "gridWidth": {"condition": {"test": "datum.value == 21800 || datum.value % 500 == 250", "value": 1}, "value": 1.4},
                      "tickOpacity": {"condition": {"test": "datum.value == 21800 || datum.value % 500 == 250", "value": 0}, "value": 1}}},
       "y": {"field": "t", "type": "quantitative", "title": "Insertion Time (ms)",
             "scale": {"domain": [-0.35, 11.49], "nice": false, "zero": false},
             "axis": {"values": [0, 1.5, 3, 4.5, 6, 7.5, 9, 10.5], "titlePadding": 8,
                      "labelExpr": "datum.value % 3 == 0 ? datum.label : ''",
                      "gridColor": {"condition": {"test": "datum.value % 3 != 0", "value": "#f3f3f3"}, "value": "#e6e6e6"},
                      "gridWidth": {"condition": {"test": "datum.value % 3 != 0", "value": 1}, "value": 1.4},
                      "tickOpacity": {"condition": {"test": "datum.value % 3 != 0", "value": 0}, "value": 1}}},
       "color": {"field": "b", "type": "nominal",
                 "scale": {"domain": ["250", "500", "1000", "2000", "4000", "8000"], "range": ["#F8766D", "#B79F00", "#00BA38", "#00BFC4", "#619CFF", "#F564E3"]},
                 "legend": {"title": "Batch size:", "orient": "none", "legendX": 39, "legendY": 519, "direction": "horizontal", "titleOrient": "left", "symbolType": "stroke", "symbolSize": 484, "symbolStrokeWidth": 2, "labelFontSize": 21.5, "titleFontSize": 21.5, "titleFontWeight": "normal", "titleColor": "black", "labelColor": "black", "labelFont": "Liberation Sans", "titleFont": "Liberation Sans", "columnPadding": 3, "labelOffset": 6, "titlePadding": 8}}
     }},
    {"data": {"name": "means"},
     "mark": {"type": "rule", "strokeDash": [6, 4], "strokeWidth": 1.5},
     "encoding": {
       "x": {"field": "x0", "type": "quantitative"},
       "x2": {"field": "x1"},
       "y": {"field": "m", "type": "quantitative"},
       "color": {"field": "b", "type": "nominal"}
     }}
  ]
},
{
  "width": 303, "height": 444,
  "title": {"text": "(b) Same PMQ size.", "orient": "bottom", "font": "Liberation Serif", "fontSize": 22.5, "fontWeight": "normal", "color": "black", "offset": 84, "anchor": "middle", "frame": "bounds"},
  "layer": [
    {"data": {"name": "core"},
     "mark": {"type": "bar", "size": 92, "opacity": 0.9},
     "encoding": {
       "x": {"field": "bs", "type": "quantitative", "title": "Batch Size",
             "scale": {"domain": [4817, 9084], "nice": false, "zero": false},
             "axis": {"values": [6000, 8000], "format": "d"}},
       "y": {"field": "lo", "type": "quantitative", "title": "Insertion Time (ms)",
             "scale": {"domain": [3.14, 31.6], "nice": false, "zero": false},
             "axis": {"values": [5, 10, 15, 20, 25, 30], "titlePadding": 8,
                      "labelExpr": "datum.value % 10 == 0 ? datum.label : ''",
                      "gridColor": {"condition": {"test": "datum.value % 10 != 0", "value": "#f3f3f3"}, "value": "#e6e6e6"},
                      "gridWidth": {"condition": {"test": "datum.value % 10 != 0", "value": 1}, "value": 1.4},
                      "tickOpacity": {"condition": {"test": "datum.value % 10 != 0", "value": 0}, "value": 1}}},
       "y2": {"field": "hi"},
       "color": {"field": "g", "type": "nominal", "scale": {"domain": ["6000", "8000"], "range": ["#F8766D", "#00BFC4"]}, "legend": null}
     }},
    {"data": {"name": "halo"},
     "mark": {"type": "bar", "size": 92, "opacity": 0.45},
     "encoding": {
       "x": {"field": "bs", "type": "quantitative"},
       "y": {"field": "lo", "type": "quantitative", "title": "Insertion Time (ms)"},
       "y2": {"field": "hi"},
       "color": {"field": "g", "type": "nominal", "legend": null}
     }},
    {"data": {"name": "fringe"},
     "mark": {"type": "point", "filled": true, "size": 45, "opacity": 0.22},
     "encoding": {
       "x": {"field": "x", "type": "quantitative"},
       "y": {"field": "t", "type": "quantitative", "title": "Insertion Time (ms)"},
       "color": {"field": "g", "type": "nominal", "legend": null}
     }},
    {"data": {"name": "stats"},
     "mark": {"type": "rule", "color": "#333333", "strokeWidth": 1.5},
     "encoding": {
       "x": {"field": "bs", "type": "quantitative"},
       "y": {"field": "lo", "type": "quantitative", "title": "Insertion Time (ms)"},
       "y2": {"field": "hi"}
     }},
    {"data": {"name": "stats"},
     "mark": {"type": "bar", "size": 43, "stroke": "#333333", "strokeWidth": 1.5},
     "encoding": {
       "x": {"field": "bs", "type": "quantitative"},
       "y": {"field": "q1", "type": "quantitative", "title": "Insertion Time (ms)"},
       "y2": {"field": "q3"},
       "fill": {"field": "g", "type": "nominal", "scale": {"domain": ["6000", "8000"], "range": ["#FBBAB6", "#80DFE1"]}, "legend": null}
     }},
    {"data": {"name": "stats"},
     "mark": {"type": "tick", "orient": "horizontal", "size": 43, "thickness": 3, "color": "#333333", "opacity": 1},
     "encoding": {
       "x": {"field": "bs", "type": "quantitative"},
       "y": {"field": "med", "type": "quantitative", "title": "Insertion Time (ms)"}
     }},
    {"data": {"name": "outliers"},
     "mark": {"type": "point", "shape": "triangle-up", "filled": true, "size": 40, "color": "#333333", "opacity": 0.5},
     "encoding": {
       "x": {"field": "bs", "type": "quantitative"},
       "y": {"field": "t", "type": "quantitative", "title": "Insertion Time (ms)"}
     }},
    {"data": {"name": "stats"},
     "mark": {"type": "point", "shape": "diamond", "filled": true, "size": 130, "color": "#FF0000", "opacity": 1},
     "encoding": {
       "x": {"field": "bs", "type": "quantitative"},
       "y": {"field": "mean", "type": "quantitative", "title": "Insertion Time (ms)"}
     }}
  ]
}
],
"spacing": 83,
"bounds": "flush",
"resolve": {"scale": {"color": "independent", "x": "independent", "y": "independent", "fill": "independent"}}
}
